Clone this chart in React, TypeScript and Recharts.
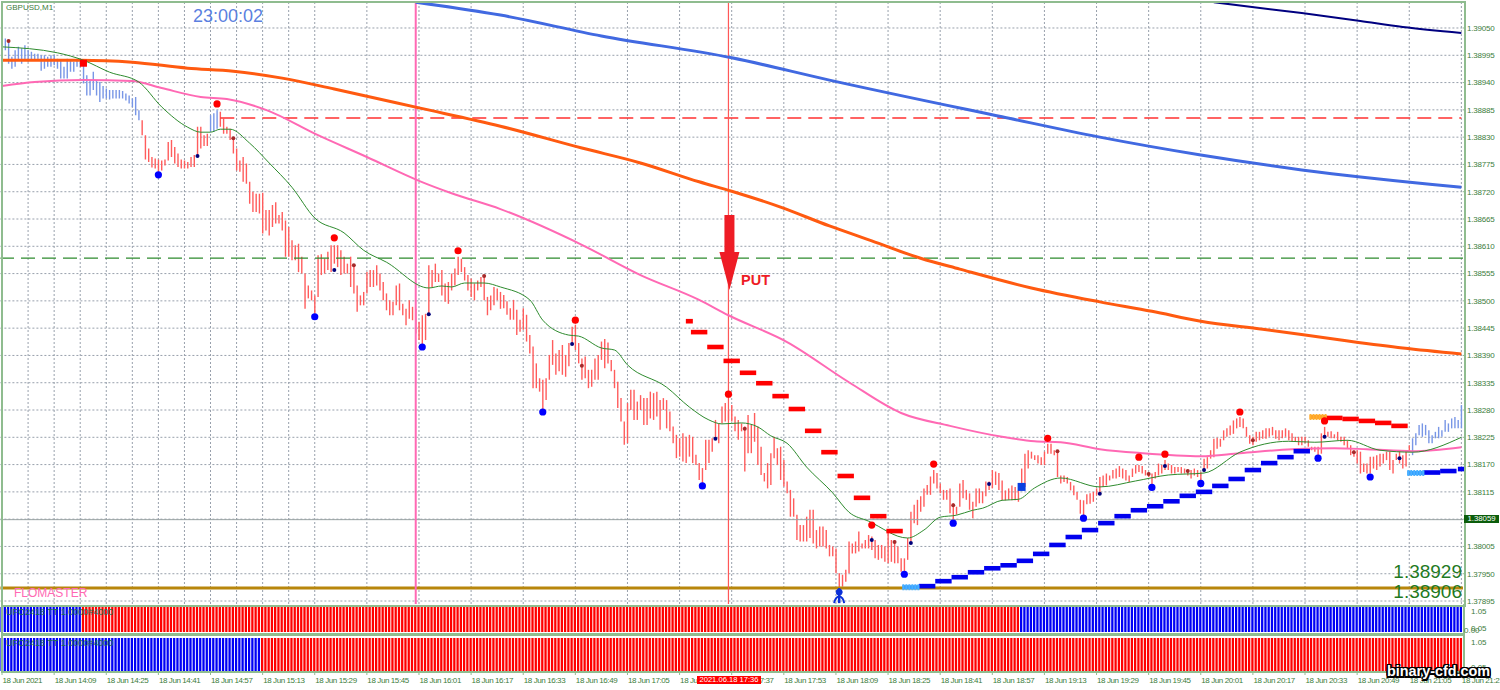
import React from 'react'
import { ComposedChart, Bar, Line, XAxis, YAxis, CartesianGrid, ReferenceLine, ReferenceDot, Cell } from 'recharts'

// prices are in points: 38995 means 1.38995
const priceTicks = [39050, 38995, 38940, 38885, 38830, 38775, 38720, 38665, 38610, 38555, 38500, 38445, 38390, 38335, 38280, 38225, 38170, 38115, 38060, 38005, 37950, 37895]
const timeLabels = ['18 Jun 2021', '18 Jun 14:09', '18 Jun 14:25', '18 Jun 14:41', '18 Jun 14:57', '18 Jun 15:13', '18 Jun 15:29', '18 Jun 15:45', '18 Jun 16:01', '18 Jun 16:17', '18 Jun 16:33', '18 Jun 16:49', '18 Jun 17:05', '18 Jun 17:21', '18 Jun 17:37', '18 Jun 17:53', '18 Jun 18:09', '18 Jun 18:25', '18 Jun 18:41', '18 Jun 18:57', '18 Jun 19:13', '18 Jun 19:29', '18 Jun 19:45', '18 Jun 20:01', '18 Jun 20:17', '18 Jun 20:33', '18 Jun 20:49', '18 Jun 21:05', '18 Jun 21:21']

const highs = [
  39035, 39029, 39022, 38992, 39005, 39012, 39009, 39015, 39005, 39002, 38998, 38998, 38995, 38995, 38992, 38995, 38995, 38988, 38985, 38972,
  38988, 38985, 38982, 38988, 38988, 38978, 38955, 38945, 38962, 38945, 38941, 38933, 38928, 38925, 38925, 38925, 38925, 38923, 38918, 38914,
  38908, 38911, 38884, 38864, 38834, 38807, 38790, 38787, 38785, 38783, 38785, 38820, 38824, 38810, 38797, 38785, 38783, 38780, 38790, 38794,
  38851, 38851, 38834, 38837, 38874, 38878, 38884, 38881, 38867, 38851, 38847, 38830, 38807, 38783, 38790, 38777, 38740, 38720, 38716, 38716,
  38718, 38683, 38683, 38693, 38699, 38673, 38679, 38662, 38649, 38622, 38612, 38615, 38589, 38555, 38531, 38521, 38511, 38592, 38594, 38585,
  38599, 38612, 38612, 38612, 38602, 38589, 38575, 38589, 38572, 38531, 38511, 38518, 38558, 38562, 38562, 38572, 38555, 38538, 38515, 38501,
  38498, 38531, 38535, 38494, 38484, 38501, 38488, 38484, 38458, 38471, 38474, 38572, 38562, 38575, 38555, 38562, 38535, 38538, 38555, 38565,
  38589, 38585, 38568, 38552, 38545, 38535, 38541, 38548, 38548, 38508, 38511, 38528, 38525, 38518, 38512, 38499, 38485, 38502, 38482, 38462,
  38485, 38472, 38431, 38408, 38374, 38344, 38341, 38344, 38391, 38421, 38394, 38401, 38411, 38391, 38415, 38448, 38452, 38415, 38384, 38388,
  38361, 38361, 38384, 38391, 38418, 38423, 38416, 38381, 38361, 38337, 38304, 38257, 38294, 38321, 38321, 38297, 38310, 38304, 38304, 38317,
  38314, 38317, 38300, 38304, 38300, 38277, 38247, 38230, 38223, 38233, 38226, 38230, 38226, 38190, 38173, 38163, 38220, 38220, 38223, 38260,
  38253, 38287, 38294, 38280, 38290, 38267, 38260, 38253, 38247, 38270, 38250, 38274, 38247, 38206, 38153, 38173, 38193, 38226, 38203, 38206,
  38179, 38136, 38119, 38102, 38069, 38048, 38048, 38065, 38079, 38079, 38038, 38045, 38045, 38038, 38008, 38005, 38001, 37951, 37948, 37958,
  38015, 38011, 38015, 38035, 38011, 38018, 38028, 38025, 38018, 38008, 38008, 38005, 38032, 38018, 38018, 38005, 37981, 37981, 38022, 38075,
  38089, 38099, 38106, 38122, 38129, 38146, 38159, 38153, 38132, 38119, 38119, 38122, 38092, 38085, 38132, 38139, 38119, 38112, 38095, 38122,
  38122, 38116, 38136, 38136, 38159, 38156, 38153, 38138, 38118, 38122, 38128, 38125, 38118, 38162, 38192, 38199, 38196, 38189, 38189, 38185,
  38196, 38212, 38212, 38199, 38199, 38148, 38148, 38145, 38135, 38128, 38115, 38099, 38098, 38110, 38112, 38115, 38122, 38145, 38148, 38152,
  38148, 38159, 38162, 38167, 38162, 38159, 38148, 38162, 38169, 38169, 38167, 38159, 38155, 38152, 38155, 38172, 38169, 38179, 38172, 38169,
  38165, 38165, 38165, 38162, 38160, 38159, 38162, 38159, 38155, 38182, 38185, 38199, 38222, 38224, 38222, 38239, 38243, 38249, 38259, 38263,
  38266, 38263, 38246, 38229, 38226, 38236, 38236, 38239, 38243, 38243, 38246, 38239, 38239, 38239, 38243, 38239, 38233, 38226, 38226, 38226,
  38226, 38219, 38206, 38206, 38206, 38233, 38246, 38236, 38237, 38231, 38236, 38226, 38226, 38219, 38209, 38199, 38199, 38196, 38172, 38172,
  38186, 38186, 38189, 38192, 38192, 38196, 38196, 38179, 38192, 38199, 38189, 38199, 38209, 38223, 38233, 38250, 38253, 38250, 38239, 38229,
  38236, 38246, 38239, 38260, 38253, 38263, 38266, 38260, 38290,
]
const lows = [
  39015, 39005, 38978, 38968, 38972, 38985, 38978, 38985, 38982, 38985, 38985, 38985, 38964, 38968, 38972, 38972, 38975, 38968, 38948, 38948,
  38948, 38962, 38962, 38972, 38972, 38938, 38914, 38914, 38925, 38914, 38901, 38908, 38908, 38906, 38908, 38908, 38908, 38908, 38904, 38898,
  38891, 38874, 38864, 38834, 38785, 38780, 38769, 38767, 38760, 38763, 38773, 38783, 38790, 38777, 38770, 38767, 38767, 38767, 38770, 38770,
  38794, 38807, 38812, 38812, 38841, 38841, 38847, 38851, 38837, 38837, 38824, 38797, 38763, 38760, 38740, 38736, 38696, 38679, 38679, 38676,
  38636, 38642, 38632, 38649, 38656, 38656, 38642, 38589, 38589, 38582, 38582, 38558, 38555, 38484, 38505, 38501, 38474, 38508, 38552, 38555,
  38562, 38558, 38575, 38568, 38552, 38555, 38555, 38528, 38515, 38478, 38491, 38491, 38515, 38528, 38528, 38531, 38521, 38501, 38481, 38471,
  38471, 38491, 38481, 38471, 38451, 38464, 38461, 38434, 38421, 38407, 38421, 38471, 38528, 38538, 38538, 38511, 38498, 38494, 38521, 38531,
  38552, 38558, 38541, 38521, 38508, 38501, 38521, 38528, 38501, 38471, 38481, 38491, 38501, 38484, 38485, 38472, 38462, 38462, 38431, 38438,
  38442, 38418, 38394, 38324, 38324, 38317, 38280, 38300, 38341, 38371, 38351, 38358, 38351, 38347, 38368, 38411, 38401, 38374, 38341, 38344,
  38324, 38327, 38341, 38341, 38381, 38364, 38374, 38358, 38324, 38284, 38257, 38210, 38213, 38280, 38260, 38260, 38280, 38250, 38250, 38263,
  38260, 38267, 38240, 38280, 38243, 38237, 38213, 38183, 38186, 38176, 38173, 38186, 38173, 38169, 38139, 38132, 38159, 38173, 38196, 38220,
  38213, 38253, 38257, 38260, 38257, 38237, 38220, 38237, 38156, 38193, 38193, 38216, 38169, 38149, 38136, 38122, 38129, 38183, 38169, 38139,
  38126, 38112, 38065, 38065, 38018, 38015, 38015, 38015, 38022, 38011, 38001, 38005, 38005, 38001, 37985, 37985, 37951, 37911, 37924, 37934,
  37951, 37991, 37991, 37995, 38001, 38001, 38001, 37998, 37981, 37978, 37981, 37974, 37971, 37974, 37971, 37971, 37954, 37951, 37978, 38015,
  38052, 38048, 38075, 38085, 38109, 38109, 38132, 38122, 38112, 38099, 38099, 38072, 38052, 38069, 38085, 38102, 38099, 38079, 38062, 38085,
  38092, 38092, 38106, 38119, 38122, 38129, 38119, 38098, 38098, 38099, 38098, 38098, 38095, 38118, 38125, 38162, 38182, 38179, 38172, 38169,
  38169, 38192, 38192, 38189, 38145, 38132, 38135, 38132, 38118, 38108, 38099, 38071, 38064, 38090, 38091, 38095, 38108, 38112, 38125, 38128,
  38138, 38142, 38142, 38145, 38142, 38138, 38135, 38145, 38152, 38155, 38152, 38148, 38145, 38128, 38142, 38148, 38152, 38159, 38159, 38152,
  38152, 38155, 38152, 38152, 38148, 38142, 38148, 38145, 38138, 38155, 38162, 38182, 38185, 38202, 38206, 38219, 38226, 38229, 38232, 38243,
  38246, 38243, 38226, 38212, 38209, 38216, 38219, 38222, 38222, 38226, 38229, 38222, 38219, 38223, 38226, 38219, 38216, 38216, 38209, 38209,
  38213, 38206, 38199, 38196, 38189, 38192, 38223, 38226, 38223, 38223, 38219, 38216, 38209, 38202, 38189, 38186, 38172, 38152, 38155, 38152,
  38152, 38162, 38159, 38166, 38172, 38179, 38159, 38152, 38179, 38172, 38162, 38166, 38196, 38189, 38209, 38229, 38226, 38229, 38213, 38213,
  38223, 38223, 38226, 38236, 38236, 38243, 38243, 38243, 38243,
]
const upBarRuns = [[0, 42], [64, 66], [433, 448]]
const panelOneUpRuns = [[0, 24], [313, 448]]
const panelTwoUpRuns = [[0, 79]]

// [bar, price] knots of the moving averages
const slowMa = [[0, 38985], [24, 38985], [40, 38981], [57, 38969], [71, 38963], [86, 38949], [102, 38927], [128, 38889], [153, 38852], [178, 38808], [196, 38778], [214, 38740], [224, 38721], [239, 38689], [254, 38651], [267, 38621], [282, 38586], [294, 38564], [316, 38526], [337, 38498], [353, 38479], [368, 38459], [387, 38443], [411, 38421], [430, 38405], [448, 38393]]
const midMa = [[0, 38933], [10, 38941], [25, 38945], [40, 38943], [49, 38929], [61, 38911], [69, 38907], [81, 38885], [97, 38834], [112, 38790], [128, 38742], [138, 38717], [153, 38685], [178, 38613], [196, 38552], [214, 38502], [223, 38471], [241, 38417], [260, 38336], [276, 38274], [291, 38248], [307, 38226], [317, 38217], [325, 38215], [337, 38201], [350, 38193], [368, 38187], [380, 38193], [396, 38201], [409, 38203], [419, 38201], [433, 38197], [448, 38205]]
const fastMa = [[0, 39012], [17, 39000], [25, 38985], [33, 38961], [42, 38941], [49, 38891], [57, 38850], [61, 38840], [64, 38840], [67, 38846], [70, 38846], [76, 38818], [82, 38778], [89, 38729], [96, 38667], [105, 38637], [111, 38602], [118, 38578], [131, 38526], [135, 38530], [138, 38528], [142, 38536], [148, 38536], [153, 38528], [162, 38502], [166, 38461], [174, 38431], [177, 38429], [184, 38405], [188, 38401], [192, 38371], [204, 38326], [211, 38286], [217, 38260], [221, 38252], [227, 38254], [232, 38246], [236, 38228], [241, 38213], [247, 38165], [255, 38113], [260, 38074], [266, 38056], [278, 38022], [283, 38038], [288, 38064], [293, 38068], [298, 38078], [301, 38082], [307, 38098], [312, 38100], [317, 38123], [325, 38143], [337, 38125], [348, 38137], [358, 38149], [369, 38153], [380, 38195], [395, 38217], [403, 38215], [413, 38219], [423, 38199], [433, 38195], [448, 38225]]
const channelBlue = [[127, 39102], [153, 39076], [184, 39034], [224, 38990], [254, 38945], [307, 38871], [337, 38830], [368, 38794], [399, 38764], [448, 38729]]
const channelNavy = [[372, 39102], [399, 39080], [417, 39064], [430, 39052], [448, 39040]]

// [bar, price] markers
const bigRedDots = [[66, 38897], [102, 38627], [140, 38601], [176, 38461], [223, 38312], [267, 38048], [286, 38171], [321, 38223], [349, 38185], [357, 38191], [380, 38276], [406, 38258]]
const bigBlueDots = [[48, 38754], [96, 38468], [129, 38407], [166, 38276], [215, 38127], [277, 37949], [292, 38052], [332, 38062], [353, 38124], [368, 38132], [404, 38183], [420, 38145]]
const navyDots = [[60, 38792], [102, 38562], [131, 38473], [175, 38413], [219, 38222], [267, 38018], [279, 38012], [303, 38131], [337, 38111], [357, 38167], [369, 38159], [406, 38226], [429, 38183]]
const brownDots = [[2, 39024], [71, 38828], [108, 38572], [148, 38550], [178, 38369], [228, 38242], [274, 38014], [292, 38088], [324, 38197], [352, 38151], [364, 38157], [384, 38219], [415, 38195]]
const redSquares = [[25, 38979]]
const blueSquares = [[313, 38125]]
const redStepStart = [[211, 38459]]
const redSteps = [[214, 38437], [219, 38407], [224, 38379], [229, 38355], [234, 38334], [239, 38308], [244, 38282], [249, 38238], [254, 38195], [259, 38147], [264, 38103], [269, 38066], [274, 38036], [409, 38264], [414, 38262], [419, 38258], [424, 38254], [429, 38248]]
const orangeHatch = [[404, 38266]]
const blueSteps = [[284, 37925], [289, 37935], [294, 37943], [299, 37953], [304, 37961], [309, 37967], [314, 37976], [319, 37990], [324, 38008], [329, 38024], [334, 38038], [339, 38052], [344, 38066], [349, 38078], [354, 38086], [359, 38096], [364, 38107], [369, 38115], [374, 38127], [379, 38141], [384, 38159], [389, 38173], [394, 38185], [399, 38197], [439, 38154], [444, 38157]]
const blueStepEnd = [[448, 38161]]
const blueHatch = [[279, 37923], [434, 38153]]

const inRuns = (bar: number, runs: number[][]) => runs.some(([a, b]) => bar >= a && bar <= b)

const table: any[] = highs.map((high, i) => ({ bar: i, range: [lows[i], high], panel: 1.05 }))
const addKnots = (key: string, knots: number[][]) => knots.forEach(([bar, v]) => { table[bar][key] = v })

addKnots('slowMa', slowMa)
addKnots('midMa', midMa)
addKnots('fastMa', fastMa)
addKnots('channelBlue', channelBlue)
addKnots('channelNavy', channelNavy)

const circle = (r: number, fill: string) => (p: any) =>
  p.cy == null ? <g key={p.index} /> : <circle key={p.index} cx={p.cx} cy={p.cy} r={r} fill={fill} />
const block = (w: number, h: number, fill: string) => (p: any) =>
  p.cy == null ? <g key={p.index} /> : <rect key={p.index} x={p.cx - w / 2} y={p.cy - h / 2} width={w} height={h} fill={fill} />
const hatch = (w: number, h: number, fill: string, dots: string) => (p: any) =>
  p.cy == null ? <g key={p.index} /> : (
    <g key={p.index}>
      <rect x={p.cx - w / 2} y={p.cy - h / 2 + 1} width={w} height={h - 2} fill={fill} />
      <line x1={p.cx - w / 2} x2={p.cx + w / 2} y1={p.cy} y2={p.cy} stroke={dots} strokeWidth={h} strokeDasharray="2 1" />
    </g>
  )

const markers: [string, number[][], any][] = [
  ['redStepStart', redStepStart, block(7, 4.6, '#ff0000')],
  ['redSteps', redSteps, block(16.4, 4.6, '#ff0000')],
  ['orangeHatch', orangeHatch, hatch(17, 6, '#ff9a20', '#ffb030')],
  ['blueSteps', blueSteps, block(16.4, 4.6, '#0000ee')],
  ['blueStepEnd', blueStepEnd, block(7, 4.6, '#0000ee')],
  ['blueHatch', blueHatch, hatch(17, 6, '#2f9bff', '#4ab0ff')],
  ['bigRedDots', bigRedDots, circle(3.6, '#ff0000')],
  ['bigBlueDots', bigBlueDots, circle(3.6, '#0000ff')],
  ['navyDots', navyDots, circle(2, '#00007a')],
  ['brownDots', brownDots, circle(2, '#a52a2a')],
  ['redSquares', redSquares, block(7, 7, '#ff0000')],
  ['blueSquares', blueSquares, block(8, 8, '#0a3fe0')],
]
markers.forEach(([key, points]) => addKnots(key, points))

const gridBars = table.filter((d) => d.bar % 8 === 0).map((d) => d.bar)

const FONT = '"Liberation Sans", sans-serif'
const AXIS_GREEN = '#3c7d3c'
const FRAME = '#8fbc8f'
const UP = '#7896e6'
const DOWN = '#ff5c5c'

const PutArrow = (p: any) => (
  <polygon
    points={`${p.cx + 1},${p.cy} ${p.cx + 11},${p.cy - 38} ${p.cx + 6},${p.cy - 38} ${p.cx + 6},${p.cy - 75} ${p.cx - 4},${p.cy - 75} ${p.cx - 4},${p.cy - 38} ${p.cx - 9},${p.cy - 38}`}
    fill="#ee1c25"
  />
)

const BluePin = (p: any) => (
  <g fill="none" stroke="#0a2fd8">
    <line x1={p.cx} x2={p.cx} y1={p.cy} y2={p.cy + 15} strokeWidth={2.5} />
    <circle cx={p.cx} cy={p.cy + 4} r={3} fill="#0a2fd8" />
    <path d={`M${p.cx - 5} ${p.cy + 15} Q${p.cx - 4} ${p.cy + 9} ${p.cx} ${p.cy + 8} Q${p.cx + 4} ${p.cy + 9} ${p.cx + 5} ${p.cy + 15}`} strokeWidth={2} />
  </g>
)

const Label = ({ x, y, size, color, children, weight, right, bg, w }: any) => (
  <div
    style={{
      position: 'absolute',
      left: right == null ? x : undefined,
      right: right == null ? undefined : 1500 - right,
      top: y,
      width: w,
      fontSize: size,
      lineHeight: 1,
      color,
      fontWeight: weight,
      background: bg,
      fontFamily: FONT,
      whiteSpace: 'nowrap',
      textAlign: bg ? 'center' : undefined,
    }}
  >
    {children}
  </div>
)

const PanelTick = (p: any) => (
  <text x={p.x} y={p.y + (p.payload.value > 1 ? 7 : -1)} fontSize={8} fontFamily={FONT} fill={AXIS_GREEN}>
    {p.payload.value.toFixed(2)}
  </text>
)

const TimeTick = (p: any) => (
  <text x={p.x + 0.5} y={p.y + 6} fontSize={8} letterSpacing={-0.4} fontFamily={FONT} fill={AXIS_GREEN}>
    {timeLabels[p.payload.value / 16]}
  </text>
)

const Panel = ({ top, height, upRuns, showTime }: any) => (
  <div style={{ position: 'absolute', left: 0, top }}>
    <ComposedChart
      width={1500}
      height={height}
      data={table}
      margin={{ top: 0, right: 0, bottom: 0, left: 0.4 }}
      barCategoryGap={0}
    >
      <XAxis
        dataKey="bar"
        type="category"
        hide={!showTime}
        interval={15}
        height={19}
        tick={TimeTick}
        tickLine={{ stroke: FRAME }}
        tickSize={4}
        axisLine={false}
      />
      <YAxis
        orientation="right"
        width={37}
        domain={[0.05, 1.05]}
        ticks={[1.05, 0.05]}
        interval={0}
        allowDataOverflow
        tick={PanelTick}
        tickLine={false}
        axisLine={false}
      />
      <Bar dataKey="panel" barSize={2.3} isAnimationActive={false}>
        {table.map((d) => (
          <Cell key={d.bar} fill={inRuns(d.bar, upRuns) ? '#0000f5' : '#ff0000'} />
        ))}
      </Bar>
    </ComposedChart>
  </div>
)

export default function App() {
  return (
    <div style={{ position: 'absolute', left: 0, top: 0, width: 1500, height: 690, background: '#fff', overflow: 'hidden' }}>
      <div style={{ position: 'absolute', left: 0, top: 0 }}>
        <ComposedChart
          width={1500}
          height={605}
          data={table}
          margin={{ top: 2, right: 0, bottom: 1, left: 0.4 }}
          barCategoryGap={0}
        >
          <CartesianGrid
            stroke="#98a0ac"
            strokeDasharray="2 2"
            horizontalValues={priceTicks}
            verticalValues={gridBars}
          />
          <XAxis dataKey="bar" type="category" hide />
          <YAxis
            orientation="right"
            width={37}
            domain={[37889, 39102.4]}
            ticks={priceTicks}
            interval={0}
            allowDataOverflow
            tickFormatter={(v: number) => `1.${v}`}
            tick={{ fontSize: 8, letterSpacing: -0.2, fontFamily: FONT, fill: AXIS_GREEN }}
            tickLine={{ stroke: FRAME }}
            tickSize={3}
            tickMargin={1}
            axisLine={false}
          />
          <Bar dataKey="range" barSize={1.4} isAnimationActive={false}>
            {table.map((d) => (
              <Cell key={d.bar} fill={inRuns(d.bar, upBarRuns) ? UP : DOWN} />
            ))}
          </Bar>
          <ReferenceLine y={38059} stroke="#9aa3a3" strokeWidth={1} />
          <ReferenceLine y={38586} stroke="#2e8b2e" strokeWidth={1.3} strokeDasharray="14 7" />
          <ReferenceLine
            stroke="#ff3030"
            strokeWidth={1.3}
            strokeDasharray="14 7"
            segment={[{ x: 67, y: 38868.6 }, { x: 448, y: 38868.6 }]}
          />
          <ReferenceLine y={37921} stroke="#b8860b" strokeWidth={3} />
          <ReferenceLine x={127} stroke="#ff69b4" strokeWidth={2} />
          <ReferenceLine x={223} stroke="#ff5858" strokeWidth={1.2} />
          <Line dataKey="channelNavy" type="monotone" stroke="#000080" strokeWidth={2} dot={false} connectNulls isAnimationActive={false} />
          <Line dataKey="channelBlue" type="monotone" stroke="#4169e1" strokeWidth={3} dot={false} connectNulls isAnimationActive={false} />
          <Line dataKey="slowMa" type="monotone" stroke="#ff5a10" strokeWidth={3} dot={false} connectNulls isAnimationActive={false} />
          <Line dataKey="midMa" type="monotone" stroke="#ff69b4" strokeWidth={2} dot={false} connectNulls isAnimationActive={false} />
          <Line dataKey="fastMa" type="monotone" stroke="#2e8b2e" strokeWidth={1} dot={false} connectNulls isAnimationActive={false} />
          {markers.map(([key, , shape]) => (
            <Line key={key} dataKey={key} stroke="none" dot={shape} activeDot={false} isAnimationActive={false} />
          ))}
          <ReferenceDot x={223} y={38522} r={0} shape={PutArrow} />
          <ReferenceDot x={257} y={37921} r={0} shape={BluePin} />
        </ComposedChart>
      </div>

      <Panel top={607} height={25} upRuns={panelOneUpRuns} />
      <Panel top={638} height={52} upRuns={panelTwoUpRuns} showTime />

      {/* window frame and panel separators */}
      <div style={{ position: 'absolute', left: 1, top: 1, width: 1461, height: 602, border: `2px solid ${FRAME}` }} />
      <div style={{ position: 'absolute', left: 1, top: 633, width: 1464, height: 3, background: FRAME }} />
      <div style={{ position: 'absolute', left: 1, top: 671, width: 1464, height: 2, background: FRAME }} />
      <div style={{ position: 'absolute', left: 1, top: 604, width: 2, height: 68, background: FRAME }} />
      <div style={{ position: 'absolute', left: 1463, top: 604, width: 2, height: 68, background: FRAME }} />

      <Label x={6} y={4} size={8} color="#3c7d3c">GBPUSD,M1</Label>
      <Label x={193} y={7} size={18} color="#5b7fe0">23:00:02</Label>
      <Label x={14} y={587} size={12} color="#ff69b4">FLOMASTER</Label>
      <Label x={741} y={273} size={14.5} color="#ee1c25" weight="bold">PUT</Label>
      <Label right={1462} y={562} size={19} color="#1f7a1f">1.38929</Label>
      <Label right={1462} y={582} size={19} color="#1f7a1f">1.38906</Label>
      <Label x={6} y={608} size={9} color="#1f6f4f">UFO2418 TT 1.0000#4000</Label>
      <Label x={6} y={639} size={9} color="#1f6f4f">UFO2418 TT 1.0000#4000</Label>
      <Label x={1464} y={627} size={8} color={AXIS_GREEN}>0.00</Label>
      <Label x={1464} y={515} w={35} size={7.8} color="#fff" bg="#0b5d0b">1.38059</Label>
      <Label x={697} y={676} w={64} size={7.6} color="#fff" bg="#ff0000">2021.06.18 17:36</Label>
      <div
        style={{
          position: 'absolute',
          left: 1387,
          top: 664,
          fontSize: 14.4,
          lineHeight: 1,
          fontWeight: 'bold',
          fontFamily: FONT,
          color: '#fff',
          whiteSpace: 'nowrap',
          textShadow: '1.5px 0 #000, -1.5px 0 #000, 0 1.5px #000, 0 -1.5px #000, 1.5px 1.5px #000, -1.5px -1.5px #000, 1.5px -1.5px #000, -1.5px 1.5px #000',
        }}
      >
        binary-cfd.com
      </div>
    </div>
  )
}
